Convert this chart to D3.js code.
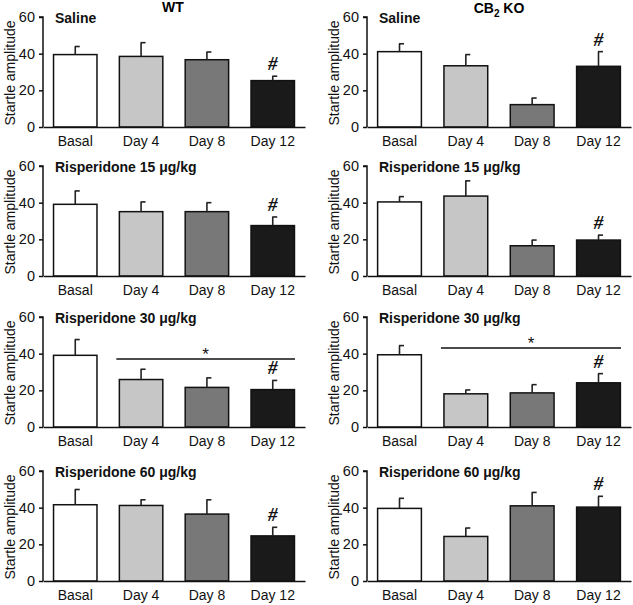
<!DOCTYPE html>
<html>
<head>
<meta charset="utf-8">
<script src="https://cdn.jsdelivr.net/npm/d3@7"></script>
<style>
  body { margin: 0; background: #fff; }
  text { font-family: "Liberation Sans", Arial, sans-serif; }
</style>
</head>
<body>
<div class="board"></div>
<script>
// values
var categories = ['Basal', 'Day 4', 'Day 8', 'Day 12'];
var treatments = ['Saline', 'Risperidone 15 \u03bcg/kg', 'Risperidone 30 \u03bcg/kg', 'Risperidone 60 \u03bcg/kg'];
var yTicks = [0, 20, 40, 60];
var barColors = ['#ffffff', '#c6c6c6', '#787878', '#1a1a1a'];

var wtMeans = [
  [39.5, 38.5, 36.7, 25.3],
  [39.1, 35.1, 35.1, 27.5],
  [39.1, 25.9, 21.6, 20.4],
  [41.6, 41.2, 36.5, 24.6]
];
var wtErrors = [
  [4.4, 7.5, 4.2, 2.4],
  [7.3, 5.3, 4.9, 4.7],
  [8.6, 5.6, 5.2, 5.0],
  [8.3, 3.1, 7.8, 4.7]
];
var koMeans = [
  [41.1, 33.4, 12.2, 33.1],
  [40.4, 43.6, 16.5, 19.6],
  [39.4, 18.1, 18.6, 24.1],
  [39.6, 24.3, 41.0, 40.3]
];
var koErrors = [
  [4.3, 6.1, 3.6, 8.0],
  [2.9, 8.3, 3.1, 2.7],
  [5.0, 2.1, 4.5, 5.0],
  [5.5, 4.6, 7.3, 5.9]
];
// '#' marks on Day 12 in every panel, '*' bracket over Day 4..Day 12 in row 3
var hashIndex = 3;
var bracketRow = 2;
var wtBracket = 37.1;
var koBracket = 43.1;

var W = 633, H = 605;
var svg = d3.select('.board').append('svg').attr('width', W).attr('height', H);

var rowTops = [17, 166, 317, 471];
var panelH = 110;
var columns = [
  { title: 'WT', x0: 43, x1: 305, means: wtMeans, errors: wtErrors, bracket: wtBracket },
  { title: 'KO', x0: 367, x1: 631, means: koMeans, errors: koErrors, bracket: koBracket }
];

// column titles
svg.append('text').attr('x', 173).attr('y', 12).attr('text-anchor', 'middle')
  .style('font-size', '14px').style('font-weight', 'bold').text('WT');
var ko = svg.append('text').attr('x', 499).attr('y', 13).attr('text-anchor', 'middle')
  .style('font-size', '14px').style('font-weight', 'bold');
ko.append('tspan').text('CB');
ko.append('tspan').attr('dy', 4).style('font-size', '10px').text('2');
ko.append('tspan').attr('dy', -4).text(' KO');

columns.forEach(function(col) {
  var x = d3.scaleBand().domain(categories).range([col.x0, col.x1])
    .paddingInner(0.34).paddingOuter(0.16);

  treatments.forEach(function(tr, r) {
    var top = rowTops[r];
    var y = d3.scaleLinear().domain([0, 60]).range([top + panelH, top]);
    var g = svg.append('g');

    var rows = categories.map(function(c, i) {
      return { cat: c, mean: col.means[r][i], err: col.errors[r][i], color: barColors[i] };
    });

    // bars
    g.selectAll('rect').data(rows).enter().append('rect')
      .attr('x', function(d) { return x(d.cat); })
      .attr('y', function(d) { return y(d.mean); })
      .attr('width', x.bandwidth())
      .attr('height', function(d) { return y(0) - y(d.mean); })
      .style('fill', function(d) { return d.color; })
      .style('stroke', '#111').style('stroke-width', 1.5);

    // error bars (upward only)
    g.selectAll('line.err').data(rows).enter().append('line').attr('class', 'err')
      .attr('x1', function(d) { return x(d.cat) + x.bandwidth() / 2; })
      .attr('x2', function(d) { return x(d.cat) + x.bandwidth() / 2; })
      .attr('y1', function(d) { return y(d.mean); })
      .attr('y2', function(d) { return y(d.mean + d.err); })
      .style('stroke', '#222').style('stroke-width', 1.6);
    g.selectAll('line.cap').data(rows).enter().append('line').attr('class', 'cap')
      .attr('x1', function(d) { return x(d.cat) + x.bandwidth() / 2 - 0.5; })
      .attr('x2', function(d) { return x(d.cat) + x.bandwidth() / 2 + 4.5; })
      .attr('y1', function(d) { return y(d.mean + d.err); })
      .attr('y2', function(d) { return y(d.mean + d.err); })
      .style('stroke', '#222').style('stroke-width', 1.6);

    // y axis
    var yAxis = g.append('g').attr('transform', 'translate(' + col.x0 + ',0)')
      .call(d3.axisLeft(y).tickValues(yTicks).tickSize(4).tickPadding(4));
    yAxis.select('.domain').attr('d', 'M-4,' + y(60) + 'H0V' + y(0))
      .style('stroke', '#111').style('stroke-width', 1.5);
    yAxis.selectAll('.tick line').style('stroke', '#111').style('stroke-width', 1.5);
    yAxis.selectAll('.tick text').style('font-size', '14.5px').style('fill', '#111')
      .style('font-family', '"Liberation Sans", Arial, sans-serif');

    // x axis
    var xAxis = g.append('g').attr('transform', 'translate(0,' + y(0) + ')')
      .call(d3.axisBottom(x).tickSize(0).tickPadding(9));
    xAxis.select('.domain').style('stroke', '#111').style('stroke-width', 1.5);
    xAxis.selectAll('.tick text').style('font-size', '14px').style('fill', '#111')
      .style('font-family', '"Liberation Sans", Arial, sans-serif');

    // y label
    g.append('text')
      .attr('transform', 'translate(' + (col.x0 - 28) + ',' + (top + panelH / 2 + 1) + ') rotate(-90)')
      .attr('text-anchor', 'middle').style('font-size', '14px').style('fill', '#111')
      .text('Startle amplitude');

    // treatment label
    g.append('text').attr('x', col.x0 + 12).attr('y', top + 6)
      .style('font-size', '14px').style('font-weight', 'bold').style('fill', '#111')
      .text(tr);

    // '#' mark
    var h = rows[hashIndex];
    g.append('text')
      .attr('x', x(h.cat) + x.bandwidth() / 2)
      .attr('y', y(h.mean + h.err) - 6)
      .attr('text-anchor', 'middle')
      .style('font-family', '"Liberation Serif", "Times New Roman", serif')
      .style('font-size', '19px').style('font-weight', 'bold').style('font-style', 'italic')
      .style('fill', '#111')
      .text('#');

    // significance bracket
    if (r === bracketRow) {
      var bx0 = x('Day 4') - 3, bx1 = col.x1 - 10;
      g.append('line').attr('x1', bx0).attr('x2', bx1)
        .attr('y1', y(col.bracket)).attr('y2', y(col.bracket))
        .style('stroke', '#111').style('stroke-width', 1.5);
      g.append('text').attr('x', (bx0 + bx1) / 2).attr('y', y(col.bracket) + 1)
        .attr('text-anchor', 'middle').style('font-size', '17px').style('fill', '#111')
        .text('*');
    }
  });
});
</script>
</body>
</html>
